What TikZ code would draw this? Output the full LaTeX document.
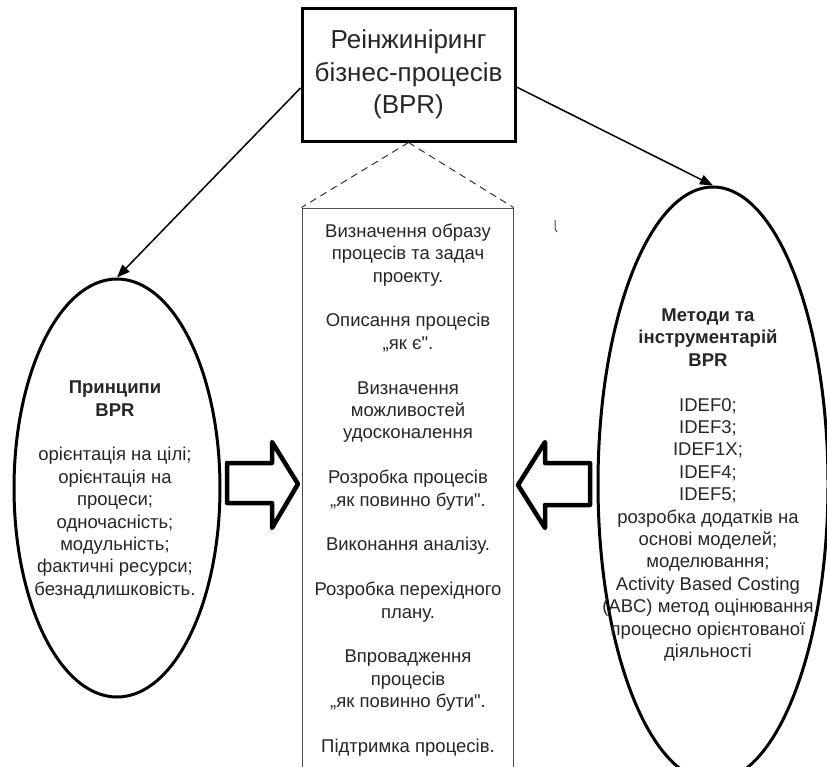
\documentclass[tikz,border=0pt]{standalone}
\usepackage{fontspec}
\defaultfontfeatures[\rmfamily,\sffamily]{}
\setmainfont{Liberation Sans}
\usetikzlibrary{arrows.meta,shapes.geometric}

\tikzset{
  txt/.style={text=black!85, align=center, inner sep=0pt,
    font=\fontsize{18.5}{22.4}\selectfont},
  headbox/.style={draw, line width=3pt, minimum width=213pt, minimum height=133pt,
    inner sep=0pt, align=center, text=black!85,
    font=\fontsize{26}{32.5}\selectfont},
  oval/.style={draw, ellipse, line width=3pt, inner sep=0pt},
  stepsbox/.style={draw=black!70, line width=1pt, minimum width=211pt,
    minimum height=582pt, inner sep=0pt},
  link/.style={line width=1.5pt, -{Triangle[length=13pt,width=10pt]}},
  guide/.style={draw=black!80, line width=1pt, dash pattern=on 7pt off 5pt},
  fatarrow/.style={draw, line width=4.5pt, line join=round, fill=white}
}

\begin{document}
\begin{tikzpicture}[x=1pt, y=-1pt]
  \useasboundingbox (0,0) rectangle (827,766);
  \clip (0,0) rectangle (827,766);

  % central heading
  \node[headbox] (head) at (408.5,74.5) {Реінжиніринг\\бізнес-процесів\\(BPR)};

  % stages column
  \node[stepsbox] (steps) at (407.5,499) {};
  \node[txt] (stepstext) at (408,490) {Визначення образу\\процесів та задач\\проекту.\\[22.4pt]
    Описання процесів\\„як є".\\[22.4pt]
    Визначення\\можливостей\\удосконалення\\[22.4pt]
    Розробка процесів\\„як повинно бути".\\[22.4pt]
    Виконання аналізу.\\[22.4pt]
    Розробка перехідного\\плану.\\[22.4pt]
    Впровадження\\процесів\\„як повинно бути".\\[22.4pt]
    Підтримка процесів.};

  % principles and methods
  \node[oval, minimum width=206pt, minimum height=418pt] (principles) at (117,488) {};
  \node[txt] (principlestext) at (115,490) {\textbf{Принципи}\\\textbf{BPR}\\[22.4pt]
    орієнтація на цілі;\\орієнтація на\\процеси;\\одночасність;\\модульність;\\фактичні ресурси;\\безнадлишковість.};

  \node[oval, minimum width=230pt, minimum height=594pt] (methods) at (713,484) {};
  \node[txt] (methodstext) at (708,485) {\textbf{Методи та}\\\textbf{інструментарій}\\\textbf{BPR}\\[22.4pt]
    IDEF0;\\IDEF3;\\IDEF1X;\\IDEF4;\\IDEF5;\\розробка додатків на\\основі моделей;\\моделювання;\\Activity Based Costing\\(ABC) метод оцінювання\\процесно орієнтованої\\діяльності};

  % connectors
  \draw[link] ([yshift=-13.5pt]head.west) -- (principles.north);
  \draw[link] ([yshift=-12.5pt]head.east) -- (methods.north);
  \draw[guide] (head.south) -- (steps.north west);
  \draw[guide] (head.south) -- (steps.north east);

  % block arrows towards the stages column
  \draw[fatarrow] (227,463) -- (272,463) -- (272,442) -- (298,484) -- (272,528)
    -- (272,503) -- (227,503) -- cycle;
  \draw[fatarrow] (590,463) -- (545,463) -- (545,442) -- (518,485) -- (545,528)
    -- (545,505) -- (590,505) -- cycle;

  % small pen mark
  \draw[line width=1pt, black!70] (555,220) -- (555,229) -- (557,232);
\end{tikzpicture}
\end{document}
